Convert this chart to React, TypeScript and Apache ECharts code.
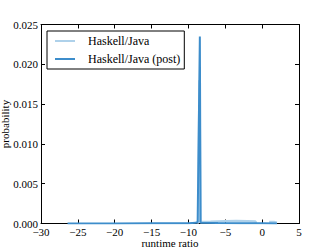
import React, { useEffect, useRef } from "react";
import * as echarts from "echarts";

const seriesNames = ["Haskell/Java", "Haskell/Java (post)"];
const lightData: (number | null)[][] = [
  [-8.8, 0.0], [-8.65, 0.0003], [-8.5, 0.018], [-8.38, 0.0002], [-7, 0.00022],
  [-5, 0.00028], [-3.5, 0.0003], [-2, 0.00028], [-0.9, 0.00025], [-0.85, 0.0],
  [-0.8, null], [0.9, null], [0.95, 0.0002], [1.6, 0.00018], [2.0, 0.0001],
];
const postData: number[][] = [
  [-26.4, 0.0], [-20, 0.00001], [-15, 0.00002], [-10, 0.00004], [-9, 0.00008],
  [-8.75, 0.0002], [-8.45, 0.0235], [-8.35, 0.0001], [-6, 0.00005], [-3, 0.00004],
  [0, 0.00002], [2, 0.0],
];
const xTicks = { min: -30, max: 5, interval: 5 };
const yTicks = { min: 0, max: 0.025, interval: 0.005 };

const FONT = "'Liberation Serif', 'Times New Roman', serif";

export default function App() {
  const ref = useRef<HTMLDivElement>(null);
  useEffect(() => {
    document.body.style.margin = "0";
    const chart = echarts.init(ref.current!, undefined, { renderer: "svg" });
    const axisLine = { show: true, onZero: false, lineStyle: { color: "#000", width: 1 } };
    const tick = { show: true, inside: true, length: 4, lineStyle: { color: "#000" } };
    chart.setOption({
      animation: false,
      backgroundColor: "#fff",
      grid: { left: 41, right: 33, top: 24.5, bottom: 25.5, containLabel: false, outerBoundsMode: "none" },
      legend: {
        left: 47,
        top: 31,
        orient: "vertical",
        data: seriesNames,
        backgroundColor: "#fff",
        borderColor: "#000",
        borderWidth: 1,
        borderRadius: 0,
        padding: [3, 4, 3, 8],
        itemGap: 4,
        itemWidth: 20,
        itemHeight: 2,
        icon: "rect",
        textStyle: { fontFamily: FONT, fontSize: 12, color: "#000", padding: [0, 0, 0, 8], lineHeight: 14 },
      },
      xAxis: [
        {
          type: "value",
          ...xTicks,
          position: "bottom",
          axisLine,
          axisTick: tick,
          splitLine: { show: false },
          axisLabel: {
            fontFamily: FONT,
            fontSize: 11,
            color: "#000",
            margin: 3,
            formatter: (v: number) => (v < 0 ? "\u2212" + Math.abs(v) : String(v)),
          },
          name: "runtime ratio",
          nameLocation: "middle",
          nameGap: 14,
          nameMoveOverlap: false,
          nameTextStyle: { fontFamily: FONT, fontSize: 11, color: "#000" },
        },
        {
          type: "value",
          ...xTicks,
          position: "top",
          axisLine,
          axisTick: tick,
          splitLine: { show: false },
          axisLabel: { show: false },
        },
      ],
      yAxis: [
        {
          type: "value",
          ...yTicks,
          position: "left",
          axisLine,
          axisTick: tick,
          splitLine: { show: false },
          axisLabel: {
            fontFamily: FONT,
            fontSize: 11,
            color: "#000",
            margin: 3,
            formatter: (v: number) => v.toFixed(3),
          },
          name: "probability",
          nameLocation: "middle",
          nameGap: 31,
          nameMoveOverlap: false,
          nameTextStyle: { fontFamily: FONT, fontSize: 11, color: "#000" },
        },
        {
          type: "value",
          ...yTicks,
          position: "right",
          axisLine,
          axisTick: tick,
          splitLine: { show: false },
          axisLabel: { show: false },
        },
      ],
      series: [
        {
          name: seriesNames[0],
          type: "line",
          data: lightData,
          showSymbol: false,
          symbol: "none",
          connectNulls: false,
          lineStyle: { color: "#aed1ea", width: 2.5 },
          itemStyle: { color: "#aed1ea" },
          z: 2,
        },
        {
          name: seriesNames[1],
          type: "line",
          data: postData,
          showSymbol: false,
          symbol: "none",
          lineStyle: { color: "#3d8dcb", width: 2 },
          itemStyle: { color: "#3d8dcb" },
          z: 3,
        },
      ],
    });
    return () => chart.dispose();
  }, []);
  return <div ref={ref} style={{ width: 332, height: 249 }} />;
}
